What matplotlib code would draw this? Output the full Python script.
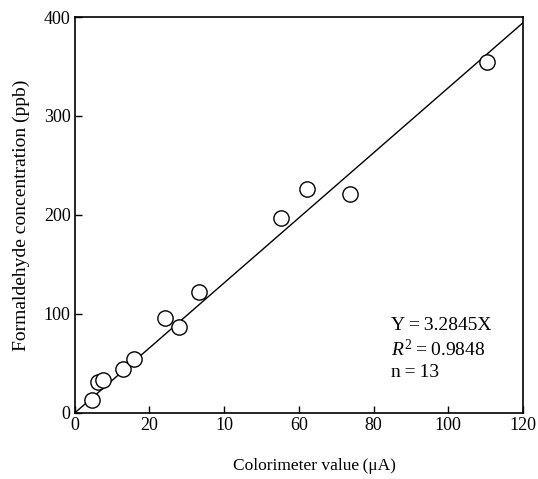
import numpy as np
import matplotlib
matplotlib.use("Agg")
import matplotlib.pyplot as plt

plt.rcParams['font.family'] = ['Liberation Serif', 'DejaVu Serif']
plt.rcParams['mathtext.fontset'] = 'custom'
plt.rcParams['mathtext.rm'] = 'Liberation Serif'
plt.rcParams['mathtext.it'] = 'Liberation Serif:italic'

# Colorimeter value (uA) vs formaldehyde concentration (ppb)
colorimetro = [4.6, 6.2, 7.6, 12.8, 15.8, 24.1, 27.9, 33.2, 55.2, 62.1, 73.7, 110.4]
concentracao = [13, 31.6, 33, 44, 54, 95.6, 86.6, 122, 196.6, 226, 221, 354.5]

inclinacao = 3.2845
x_ticks = [0, 20, 40, 60, 80, 100, 120]
x_tick_labels = ['0', '20', '10', '60', '80', '100', '120']
y_ticks = [0, 100, 200, 300, 400]


def main():
    fig = plt.figure(figsize=(5.38, 4.79), dpi=100)
    ax = fig.add_axes([0.139, 0.138, 0.833, 0.8265])

    ax.plot(colorimetro, concentracao, 'o', mfc='white', mec='black',
            markersize=11, mew=1.0, zorder=3)
    x_linha = np.array([0, 120])
    ax.plot(x_linha, inclinacao * x_linha, color='black', lw=1.0)

    ax.set_xlim(0, 120)
    ax.set_ylim(0, 400)
    ax.set_xticks(x_ticks)
    ax.set_xticklabels(x_tick_labels)
    ax.set_yticks(y_ticks)
    ax.tick_params(direction='in', length=5, width=1, labelsize=13, pad=3)
    for s in ax.spines.values():
        s.set_linewidth(1.2)

    ax.set_xlabel('Colorimeter value\u2009(μA)', fontsize=12.5, labelpad=16)
    ax.xaxis.set_label_coords(0.535, -0.115)
    ax.set_ylabel('Formaldehyde concentration (ppb)', fontsize=14, labelpad=10)

    # equação da reta
    ax.text(0.705, 0.22, 'Y\u2009=\u20093.2845X', transform=ax.transAxes, fontsize=14, va='center')
    ax.text(0.705, 0.159, '$\\it{R}^2$\u2009=\u20090.9848', transform=ax.transAxes, fontsize=14, va='center')
    ax.text(0.705, 0.101, 'n\u2009=\u200913', transform=ax.transAxes, fontsize=14, va='center')

    fig.savefig('out.png', dpi=100)


if __name__ == "__main__":
    main()
